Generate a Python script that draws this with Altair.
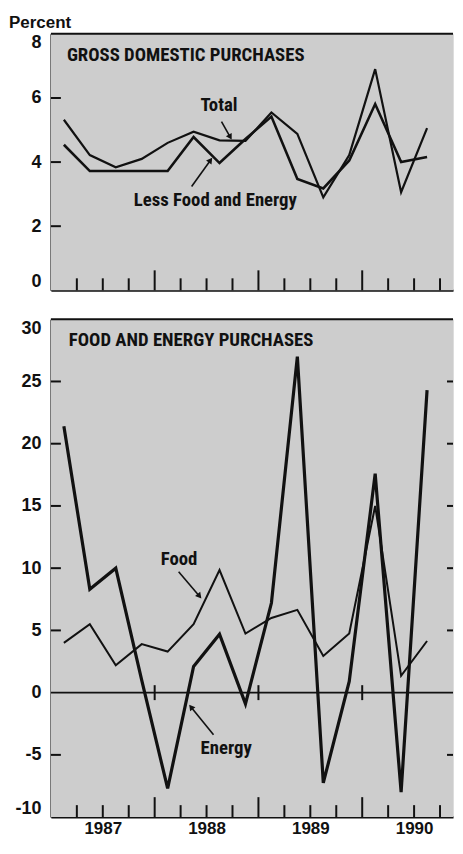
import altair as alt
import pandas as pd

# ---------------- data ----------------
quarters = ["1987 Q1", "1987 Q2", "1987 Q3", "1987 Q4",
            "1988 Q1", "1988 Q2", "1988 Q3", "1988 Q4",
            "1989 Q1", "1989 Q2", "1989 Q3", "1989 Q4",
            "1990 Q1", "1990 Q2", "1990 Q3"]
total = [5.32, 4.22, 3.84, 4.10, 4.60, 4.95, 4.68, 4.66, 5.55, 4.88, 2.90, 4.22, 6.90, 3.06, 5.06]
less_food_energy = [4.54, 3.72, 3.72, 3.72, 3.72, 4.78, 3.97, 4.72, 5.42, 3.47, 3.18, 4.05, 5.81, 4.00, 4.16]
food = [4.0, 5.5, 2.2, 3.9, 3.3, 5.5, 9.85, 4.75, 6.0, 6.65, 2.95, 4.75, 15.0, 1.35, 4.15]
energy = [21.4, 8.3, 10.0, 1.0, -7.7, 2.1, 4.7, -0.9, 7.2, 27.0, -7.25, 0.9, 17.6, -8.0, 24.3]

top_y_ticks = [0, 2, 4, 6, 8]
bottom_y_ticks = [-10, -5, 0, 5, 10, 15, 20, 25, 30]
year_labels = ["1987", "1988", "1989", "1990"]

# ---------------- helpers ----------------
def qpos(q):
    y, n = q.split(" Q")
    return int(y) + (int(n) - 0.5) / 4.0

t = [qpos(q) for q in quarters]
first_year = int(year_labels[0])
bounds_q = [first_year + k / 4.0 for k in range(1, 4 * len(year_labels))]
short_b = [b for b in bounds_q if b != int(b)]
long_b = [b for b in bounds_q if b == int(b)]

W = 403
H_TOP = 257
H_BOT = 499
PX_PER_YEAR = 104.0
XDOM = [1987.0, 1987.0 + W / PX_PER_YEAR]

ANN_FONT = "Liberation Sans Narrow, Roboto Condensed, DejaVu Sans Condensed, Arial Narrow, sans-serif"
AX_FONT = "Liberation Sans, Arial, Helvetica, sans-serif"
INK = "#111111"
BG = "#cdcdcd"

xscale = alt.Scale(domain=XDOM, nice=False, zero=False)


def yaxis(vals):
    return alt.Axis(values=vals, ticks=False, domain=True, domainWidth=2, domainColor=INK,
                    grid=False, title=None, labelFont=AX_FONT, labelFontSize=18,
                    labelFontWeight="bold", labelColor=INK, labelPadding=10,
                    labelFlush=True, labelExpr="datum.value + ''")


def xaxis(show_labels):
    if show_labels:
        return alt.Axis(values=[int(y) + 0.5 for y in year_labels], ticks=False, domain=True,
                        domainWidth=2, domainColor=INK, grid=False, title=None,
                        labelFont=AX_FONT, labelFontSize=17, labelFontWeight="bold",
                        labelColor=INK, labelPadding=3, labelFlush=False, labelOverlap=False,
                        labelExpr="'' + floor(datum.value)")
    return alt.Axis(labels=False, ticks=False, domain=True, domainWidth=2, domainColor=INK,
                    grid=False, title=None)


def ann_text(txt, x, y, size=18.8):
    return alt.Chart().mark_text(text=txt, align="left", baseline="middle", font=ANN_FONT,
                                 fontSize=size, fontWeight="bold", color=INK).encode(
        x=alt.XDatum(x), y=alt.YDatum(y))


def arrow(x0, y0, x1, y1, ang):
    df = pd.DataFrame({"ax": [x0, x1], "ay": [y0, y1], "o": [0, 1]})
    shaft = alt.Chart(df).mark_line(color=INK, strokeWidth=1.6).encode(
        x=alt.X("ax:Q"), y=alt.Y("ay:Q"), order="o:Q")
    head = alt.Chart(df.iloc[[1]]).mark_point(shape="triangle-up", filled=True, color=INK,
                                              size=45, angle=ang, opacity=1).encode(
        x=alt.X("ax:Q"), y=alt.Y("ay:Q"))
    return [shaft, head]


def background(height):
    return alt.Chart().mark_rect(color=BG).encode(
        x=alt.value(0), x2=alt.value(W), y=alt.value(0), y2=alt.value(height))


def frame_ticks(height, yvals_inner, right_ticks=False):
    sdf = pd.DataFrame({"b": short_b})
    ldf = pd.DataFrame({"b": long_b})
    s = alt.Chart(sdf).mark_rule(color=INK, strokeWidth=2).encode(
        x=alt.X("b:Q"), y=alt.value(height), y2=alt.value(height - 12))
    l = alt.Chart(ldf).mark_rule(color=INK, strokeWidth=2).encode(
        x=alt.X("b:Q"), y=alt.value(height), y2=alt.value(height - 20))
    ydf = pd.DataFrame({"tv": yvals_inner})
    lt = alt.Chart(ydf).mark_rule(color=INK, strokeWidth=2).encode(
        y=alt.Y("tv:Q"), x=alt.value(0), x2=alt.value(10))
    top = alt.Chart().mark_rule(color=INK, strokeWidth=2).encode(
        x=alt.value(0), x2=alt.value(W), y=alt.value(0))
    layers = [s, l, lt, top]
    if right_ticks:
        rt = alt.Chart(ydf).mark_rule(color=INK, strokeWidth=2).encode(
            y=alt.Y("tv:Q"), x=alt.value(W - 6), x2=alt.value(W))
        layers.append(rt)
    return layers


# ---------------- top panel ----------------
top_df = pd.DataFrame({"t": t, "total": total, "lfe": less_food_energy})
ytop = alt.Scale(domain=[0, 8], nice=False, zero=False)

total_line = alt.Chart(top_df).mark_line(color=INK, strokeWidth=2.2).encode(
    x=alt.X("t:Q", scale=xscale, axis=xaxis(False)),
    y=alt.Y("total:Q", scale=ytop, axis=yaxis(top_y_ticks)))
lfe_line = alt.Chart(top_df).mark_line(color=INK, strokeWidth=2.6).encode(
    x=alt.X("t:Q"), y=alt.Y("lfe:Q"))

percent = alt.Chart().mark_text(text="Percent", align="left", baseline="alphabetic",
                                font=AX_FONT, fontSize=17, fontWeight="bold", color=INK).encode(
    x=alt.value(-42), y=alt.value(-6))
anchor = alt.Chart().mark_rule(color=INK, strokeOpacity=0).encode(
    x=alt.value(-42.5), x2=alt.value(-42), y=alt.value(-24))

top_panel = alt.layer(
    background(H_TOP),
    total_line, lfe_line,
    *frame_ticks(H_TOP, [2, 4, 6]),
    ann_text("GROSS DOMESTIC PURCHASES", 1987.154, 7.35),
    ann_text("Total", 1988.442, 5.79),
    ann_text("Less Food and Energy", 1987.798, 2.83),
    *arrow(1988.644, 5.26, 1988.728, 4.78, 150),
    *arrow(1988.356, 3.24, 1988.538, 4.06, 36),
    percent, anchor,
).properties(width=W, height=H_TOP)

# ---------------- bottom panel ----------------
bot_df = pd.DataFrame({"t": t, "food": food, "energy": energy})
ybot = alt.Scale(domain=[-10, 30], nice=False, zero=False)

zero_line = alt.Chart().mark_rule(color=INK, strokeWidth=1.6).encode(
    y=alt.YDatum(0, scale=ybot, axis=yaxis(bottom_y_ticks)))
food_line = alt.Chart(bot_df).mark_line(color=INK, strokeWidth=2.0).encode(
    x=alt.X("t:Q", scale=xscale, axis=xaxis(True)),
    y=alt.Y("food:Q"))
energy_line = alt.Chart(bot_df).mark_line(color=INK, strokeWidth=3.2).encode(
    x=alt.X("t:Q"), y=alt.Y("energy:Q"))
zero_ticks = alt.Chart(pd.DataFrame({"b": long_b})).mark_rule(color=INK, strokeWidth=2).encode(
    x=alt.X("b:Q"), y=alt.YDatum(-0.6), y2=alt.Y2Datum(0.6))

bottom_panel = alt.layer(
    background(H_BOT),
    zero_line, food_line, energy_line, zero_ticks,
    *frame_ticks(H_BOT, [-5, 5, 10, 15, 20, 25], right_ticks=True),
    ann_text("FOOD AND ENERGY PURCHASES", 1987.173, 28.3),
    ann_text("Food", 1988.058, 10.73),
    ann_text("Energy", 1988.442, -4.42),
    *arrow(1988.231, 9.71, 1988.432, 7.75, 140),
    *arrow(1988.567, -3.39, 1988.350, -1.15, 322),
).properties(width=W, height=H_BOT)

chart = alt.vconcat(top_panel, bottom_panel, spacing=29, bounds="flush").properties(
    padding=0
).configure_view(strokeWidth=0).configure(background="white")

chart.save("out.html", embed_options={"renderer": "svg", "actions": False})
